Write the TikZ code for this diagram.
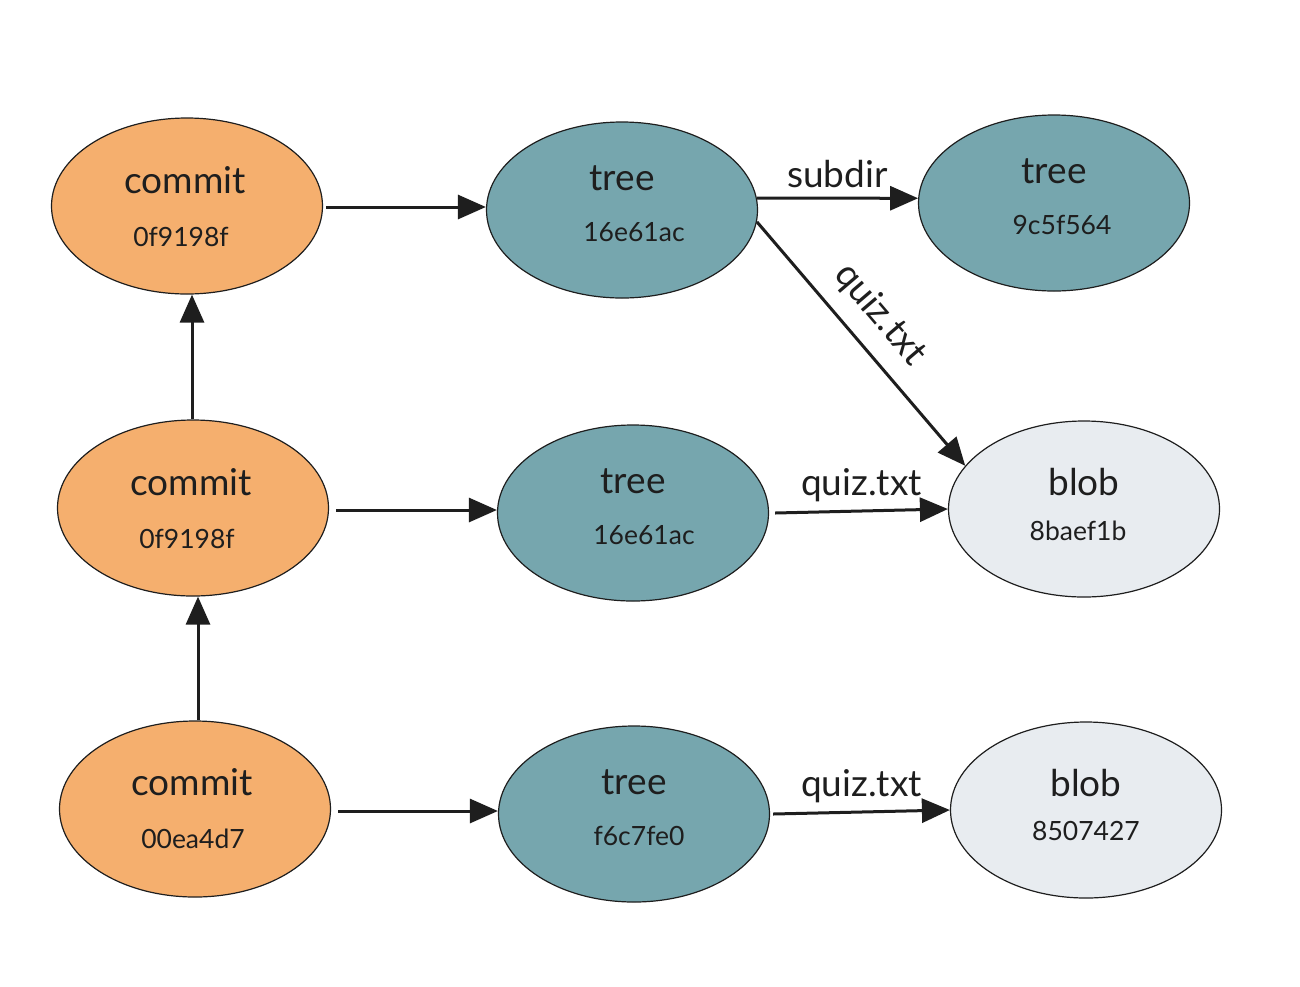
\documentclass[tikz,border=0pt]{standalone}
\usepackage{fontspec}
\setmainfont{Lato}
\usetikzlibrary{shapes.geometric,arrows.meta}
\definecolor{commitc}{RGB}{245,175,110}
\definecolor{treec}{RGB}{118,166,174}
\definecolor{blobc}{RGB}{232,236,240}
\definecolor{ink}{RGB}{30,30,30}
\tikzset{
  obj/.style={ellipse, draw=ink, line width=1.2pt, minimum width=271pt, minimum height=176pt, inner sep=0pt},
  commitobj/.style={obj, fill=commitc},
  treeobj/.style={obj, fill=treec},
  blobobj/.style={obj, fill=blobc},
  title/.style={font=\fontsize{37}{40}\selectfont, text=ink},
  hash/.style={font=\fontsize{26.5}{30}\selectfont, text=ink},
  lbl/.style={font=\fontsize{37}{40}\selectfont, text=ink, inner sep=2pt},
  arr/.style={draw=ink, line width=3pt, -{Triangle[length=28pt,width=24pt]}}
}
\begin{document}
\begin{tikzpicture}[x=1pt,y=-1pt]
\useasboundingbox (0,0) rectangle (1300,986);
% nodes
\node[commitobj] (c1) at (187,206) {};
\node[commitobj] (c2) at (193,508) {};
\node[commitobj] (c3) at (195,809) {};
\node[treeobj] (t1) at (622,210) {};
\node[treeobj] (t2) at (633,513) {};
\node[treeobj] (t3) at (634,814) {};
\node[treeobj] (tr) at (1054,203) {};
\node[blobobj] (b1) at (1084,509) {};
\node[blobobj] (b2) at (1086,810) {};
% texts
\node[title] (c1a) at (185,180) {commit};
\node[hash]  (c1b) at (181,237) {0f9198f};
\node[title] (c2a) at (191,482) {commit};
\node[hash]  (c2b) at (187,539) {0f9198f};
\node[title] (c3a) at (192,782) {commit};
\node[hash]  (c3b) at (193,839) {00ea4d7};
\node[title] (t1a) at (622,178) {tree};
\node[hash]  (t1b) at (634,232) {16e61ac};
\node[title] (t2a) at (633,481) {tree};
\node[hash]  (t2b) at (644,535) {16e61ac};
\node[title] (t3a) at (634,782) {tree};
\node[hash]  (t3b) at (639,836) {f6c7fe0};
\node[title] (tra) at (1054,171) {tree};
\node[hash]  (trb) at (1062,225) {9c5f564};
\node[title] (b1a) at (1084,482) {blob};
\node[hash]  (b1b) at (1078,531) {8baef1b};
\node[title] (b2a) at (1086,783) {blob};
\node[hash]  (b2b) at (1086,831) {8507427};
% connectors
\draw[arr] ([xshift=3pt,yshift=-1pt]c1.east) -- ([yshift=-1pt]c1.east -| t1.west);
\draw[arr] ([xshift=7pt,yshift=-2pt]c2.east) -- ([yshift=-2pt]c2.east -| t2.west);
\draw[arr] ([xshift=7pt,yshift=-2pt]c3.east) -- ([yshift=-2pt]c3.east -| t3.west);
\draw[arr] ([xshift=-1pt]c2.north) -- ([xshift=-1pt]c2.north |- c1.south);
\draw[arr] ([xshift=3pt]c3.north) -- ([xshift=3pt]c3.north |- c2.south);
\draw[arr] (t1.5) -- node[lbl, midway, above=7pt] {subdir} (tr.178);
\draw[arr] (t1.-5) -- node[lbl, pos=0.47, sloped, above=13pt] {quiz.txt} (b1.160);
\draw[arr] ([xshift=6pt]t2.east) -- node[lbl, midway, above=6pt] {quiz.txt} (b1.west);
\draw[arr] ([xshift=3pt]t3.east) -- node[lbl, midway, above=6pt] {quiz.txt} (b2.west);
\end{tikzpicture}
\end{document}
